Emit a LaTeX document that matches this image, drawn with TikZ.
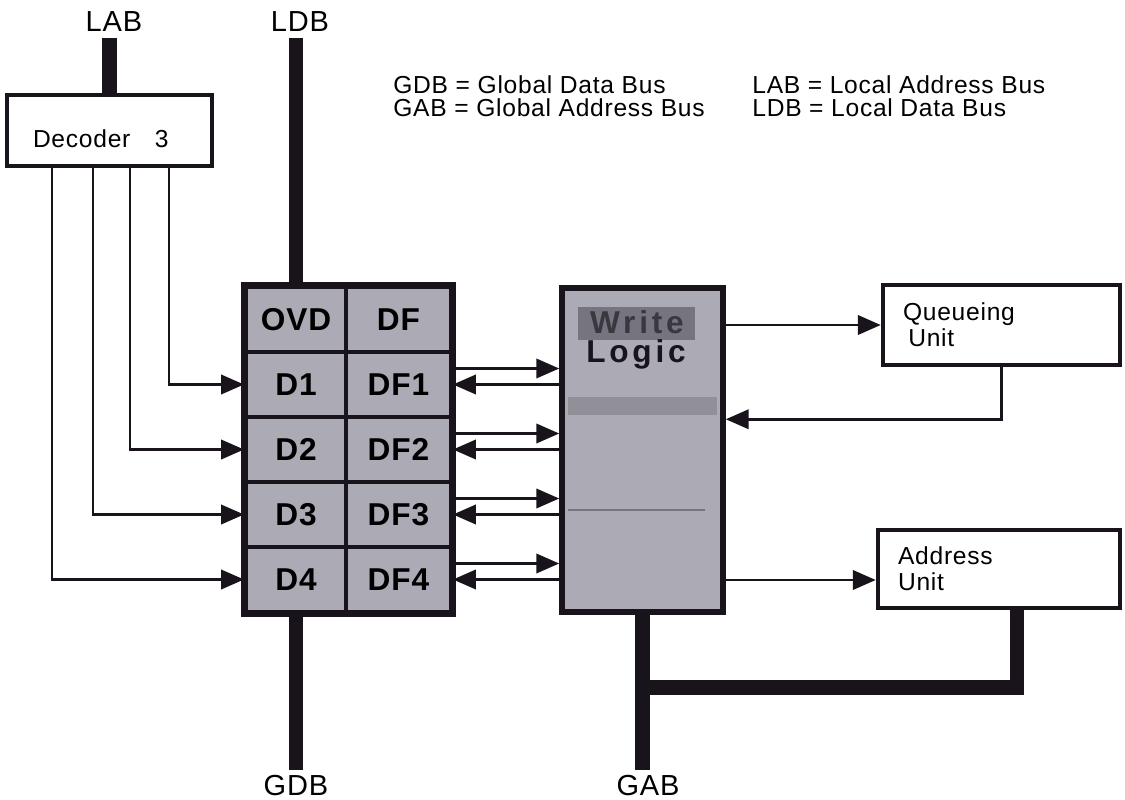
\documentclass[tikz,border=0pt]{standalone}
\usepackage{fontspec}
\setmainfont[LetterSpace=3]{Liberation Sans}
\newfontfamily\blockfont[LetterSpace=3]{Liberation Sans}
\newfontfamily\wlfont[LetterSpace=12]{Liberation Sans}
\usetikzlibrary{arrows.meta, fit}

\definecolor{CellGray}{RGB}{172,170,180}
\definecolor{BandGray}{RGB}{118,116,126}
\definecolor{InkBlack}{RGB}{25,20,28}

\begin{document}
\begin{tikzpicture}[x=0.02cm, y=-0.02cm,
  sig/.style={draw=InkBlack, line width=1.5pt, -{Triangle[length=13pt, width=11pt]}},
  bus/.style={draw=InkBlack, line width=8.3pt},
  unit/.style={draw=InkBlack, line width=2.6pt, fill=white, align=left, font=\fontsize{14}{15}\selectfont, inner xsep=0.4cm},
  cell/.style={draw=InkBlack, line width=2.3pt, fill=CellGray, minimum height=1.3cm, inner sep=0pt, font=\blockfont\bfseries\fontsize{18}{20}\selectfont},
  wltext/.style={font=\wlfont\bfseries\fontsize{18}{20}\selectfont, inner sep=1pt},
  buslabel/.style={font=\fontsize{16.5}{18}\selectfont, inner sep=3pt},
  legend/.style={anchor=west, font=\fontsize{14}{15}\selectfont, inner sep=0pt}
]
\fill[white] (0,0) rectangle (1125,800);
\useasboundingbox (0,0) rectangle (1125,800);

% bus labels
\node[buslabel] (lab) at (114,22) {LAB};
\node[buslabel] (ldb) at (300,22) {LDB};
\node[buslabel] (gdb) at (296,786) {GDB};
\node[buslabel] (gab) at (648,786) {GAB};

% legend
\node[legend] (lg1) at (393,85) {GDB = Global Data Bus};
\node[legend] (lg2) at (393,108) {GAB = Global Address Bus};
\node[legend] (lg3) at (752,85) {LAB = Local Address Bus};
\node[legend] (lg4) at (752,108) {LDB = Local Data Bus};

% decoder
\node[unit, text width=3.06cm, inner xsep=0.52cm, minimum height=1.42cm,
      text height=0.7cm, text depth=0pt] (dec) at (109.5,130.5) {Decoder\quad 3};

% register block
\node[cell, minimum width=2cm] (ovd) at (296,319.5) {OVD};
\node[cell, minimum width=2.1cm] (df) at (398.5,319.5) {DF};
\foreach \i in {1,...,4} {
  \node[cell, minimum width=2cm] (d\i) at (296,{319.5+65*\i}) {D\i};
  \node[cell, minimum width=2.1cm] (df\i) at (398.5,{319.5+65*\i}) {DF\i};
}
\node[draw=InkBlack, line width=3.4pt, inner sep=0pt, fit=(ovd)(df4)] (regs) {};

% write logic
\node[draw=InkBlack, line width=3.2pt, fill=CellGray, minimum width=3.22cm, minimum height=6.48cm] (wl) at (642.5,450) {};
\fill[BandGray] (578,307) rectangle (695,340);
\fill[BandGray!80] (568,397) rectangle (717,415);
\draw[BandGray, line width=1.2pt] (568,510) -- (705,510);
\node[wltext, text=InkBlack!85] (wrtxt) at (637,322) {Write};
\node[wltext, text=InkBlack] (lgtxt) at (636,354) {Logic};

% units
\node[unit, text width=3.94cm, minimum height=1.6cm] (qu) at (1001.5,325) {Queueing\\\hspace*{3pt}Unit};
\node[unit, text width=4.04cm, minimum height=1.56cm] (au) at (999,569) {Address\\Unit};

% buses
\draw[bus] (dec.north |- lab.south) -- (dec.north);
\draw[bus] (ovd.north |- ldb.south) -- (ovd.north |- regs.north);
\draw[bus] (ovd.south |- regs.south) -- (ovd.south |- gdb.north);
\coordinate (tap) at ([yshift=-1.46cm]wl.south);
\draw[bus] (wl.south) -- (wl.south |- gab.north);
\draw[bus] ([xshift=0.36cm]au.south) |- (tap);

% decoder outputs
\foreach \dx/\row in {1.19/1, 0.41/2, -0.33/3, -1.15/4}
  \draw[sig] ([xshift=\dx cm]dec.south) |- (d\row.west);

% register <-> write logic
\foreach \i in {1,...,4} {
  \draw[sig] ([yshift=0.32cm]df\i.east) -- ([yshift=0.32cm]df\i.east -| wl.west);
  \draw[sig] (df\i.east -| wl.west) -- (df\i.east);
}

% write logic <-> units
\draw[sig] (wl.east |- qu.west) -- (qu.west);
\draw[sig] (qu.south) |- ([yshift=-1.04cm]qu.south -| wl.east);
\draw[sig] ([yshift=-0.22cm]au.west -| wl.east) -- ([yshift=-0.22cm]au.west);
\end{tikzpicture}
\end{document}
